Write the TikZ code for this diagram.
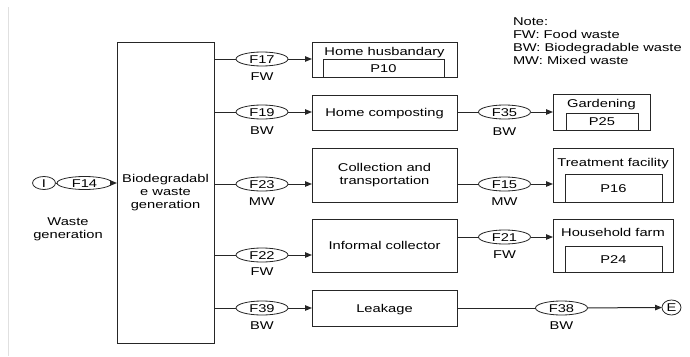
\documentclass[tikz,border=0pt]{standalone}
\usepackage{fontspec}
\setmainfont{Liberation Sans}[FakeStretch=1.3]
\usetikzlibrary{shapes.geometric,arrows.meta}
\begin{document}
\begin{tikzpicture}[x=1pt,y=-1pt,
  every node/.style={font=\fontsize{11.3}{13}\selectfont, inner sep=0pt, outer sep=0pt},
  box/.style={draw=black!85, line width=1pt, rectangle},
  lbl/.style={text height=8.1pt, text depth=0pt},
  flow/.style={ellipse, draw=black!85, line width=0.8pt, minimum width=52pt, minimum height=14pt, text height=8.1pt, text depth=0pt},
  conn/.style={draw=black!85, line width=1pt},
  arr/.style={conn, -{Triangle[length=7pt,width=5.5pt]}}
]
\useasboundingbox (0,0) rectangle (690,356);
\draw[black!12, line width=0.8pt] (8.5,7) -- (8.5,356);

% source
\node[flow, minimum width=23pt, minimum height=13pt] (i) at (44,183) {I};
\node[flow, minimum width=55pt, minimum height=13pt] (f14) at (84.5,183) {F14};
\node[align=center] (wg) at (68,229) {Waste\\generation};

% main box
\node[box, minimum width=97pt, minimum height=301pt, align=center] (main) at (165.5,192.5) {Biodegradabl\\e waste\\generation};

% column 1 flows
\node[flow] (f17) at (262,59) {F17};
\node[lbl] (f17l) at (262,76) {FW};
\node[flow] (f19) at (262,112) {F19};
\node[lbl] (f19l) at (262,130) {BW};
\node[flow] (f23) at (262,184) {F23};
\node[lbl] (f23l) at (262,201) {MW};
\node[flow] (f22) at (262,255) {F22};
\node[lbl] (f22l) at (262,271.5) {FW};
\node[flow] (f39) at (262,308) {F39};
\node[lbl] (f39l) at (262,325) {BW};

% column 2 boxes
\node[box, minimum width=145pt, minimum height=35pt] (hh) at (384.5,59.5) {};
\node[lbl] (hht) at (384.5,51) {Home husbandary};
\node[box, minimum width=121pt, minimum height=18pt, lbl] (p10) at (383.5,68) {P10};
\node[box, minimum width=145pt, minimum height=35pt, lbl] (hc) at (384.5,112.5) {Home composting};
\node[box, minimum width=145pt, minimum height=54pt, align=center] (ct) at (384.5,175) {Collection and\\transportation};
\node[box, minimum width=145pt, minimum height=53pt, lbl] (ic) at (384.5,245.5) {Informal collector};
\node[box, minimum width=145pt, minimum height=36pt, lbl] (lk) at (384.5,308) {Leakage};

% column 3 flows
\node[flow] (f35) at (504.5,112) {F35};
\node[lbl] (f35l) at (504.5,131) {BW};
\node[flow] (f15) at (504.5,184) {F15};
\node[lbl] (f15l) at (504.5,201) {MW};
\node[flow] (f21) at (504.5,237) {F21};
\node[lbl] (f21l) at (504.5,254) {FW};
\node[flow] (f38) at (561.5,308) {F38};
\node[lbl] (f38l) at (561.5,325.5) {BW};

% right boxes
\node[box, minimum width=97pt, minimum height=36pt] (gd) at (601.5,112) {};
\node[lbl] (gdt) at (601.5,103) {Gardening};
\node[box, minimum width=72pt, minimum height=17pt, lbl] (p25) at (602,121.5) {P25};
\node[box, minimum width=120pt, minimum height=54pt] (tf) at (613,175) {};
\node[lbl] (tft) at (613,162) {Treatment facility};
\node[box, minimum width=97pt, minimum height=28pt, lbl] (p16) at (613.5,188) {P16};
\node[box, minimum width=120pt, minimum height=53pt] (hf) at (613,245.5) {};
\node[lbl] (hft) at (613,232) {Household farm};
\node[box, minimum width=97pt, minimum height=26pt, lbl] (p24) at (613.5,259) {P24};
\node[flow, minimum width=19pt, minimum height=15pt] (e) at (671.5,307.5) {E};

% note
\node[anchor=north west, align=left] (note) at (513,18) {Note:\\FW: Food waste\\BW: Biodegradable waste\\MW: Mixed waste};

% connectors
\draw[conn] (i) -- (f14);
\draw[arr] (f14) -- (main.west |- f14);
\foreach \f/\b in {f17/hh, f19/hc, f23/ct, f22/ic, f39/lk}{
  \draw[conn] (main.east |- \f) -- (\f);
  \draw[arr] (\f) -- (\b.west |- \f);
}
\draw[conn] (hc.east |- f35) -- (f35);
\draw[arr] (f35) -- (gd.west |- f35);
\draw[conn] (ct.east |- f15) -- (f15);
\draw[arr] (f15) -- (tf.west |- f15);
\draw[conn] (ic.east |- f21) -- (f21);
\draw[arr] (f21) -- (hf.west |- f21);
\draw[conn] (lk.east |- f38) -- (f38);
\draw[arr] (f38) -- (e);
\end{tikzpicture}
\end{document}
